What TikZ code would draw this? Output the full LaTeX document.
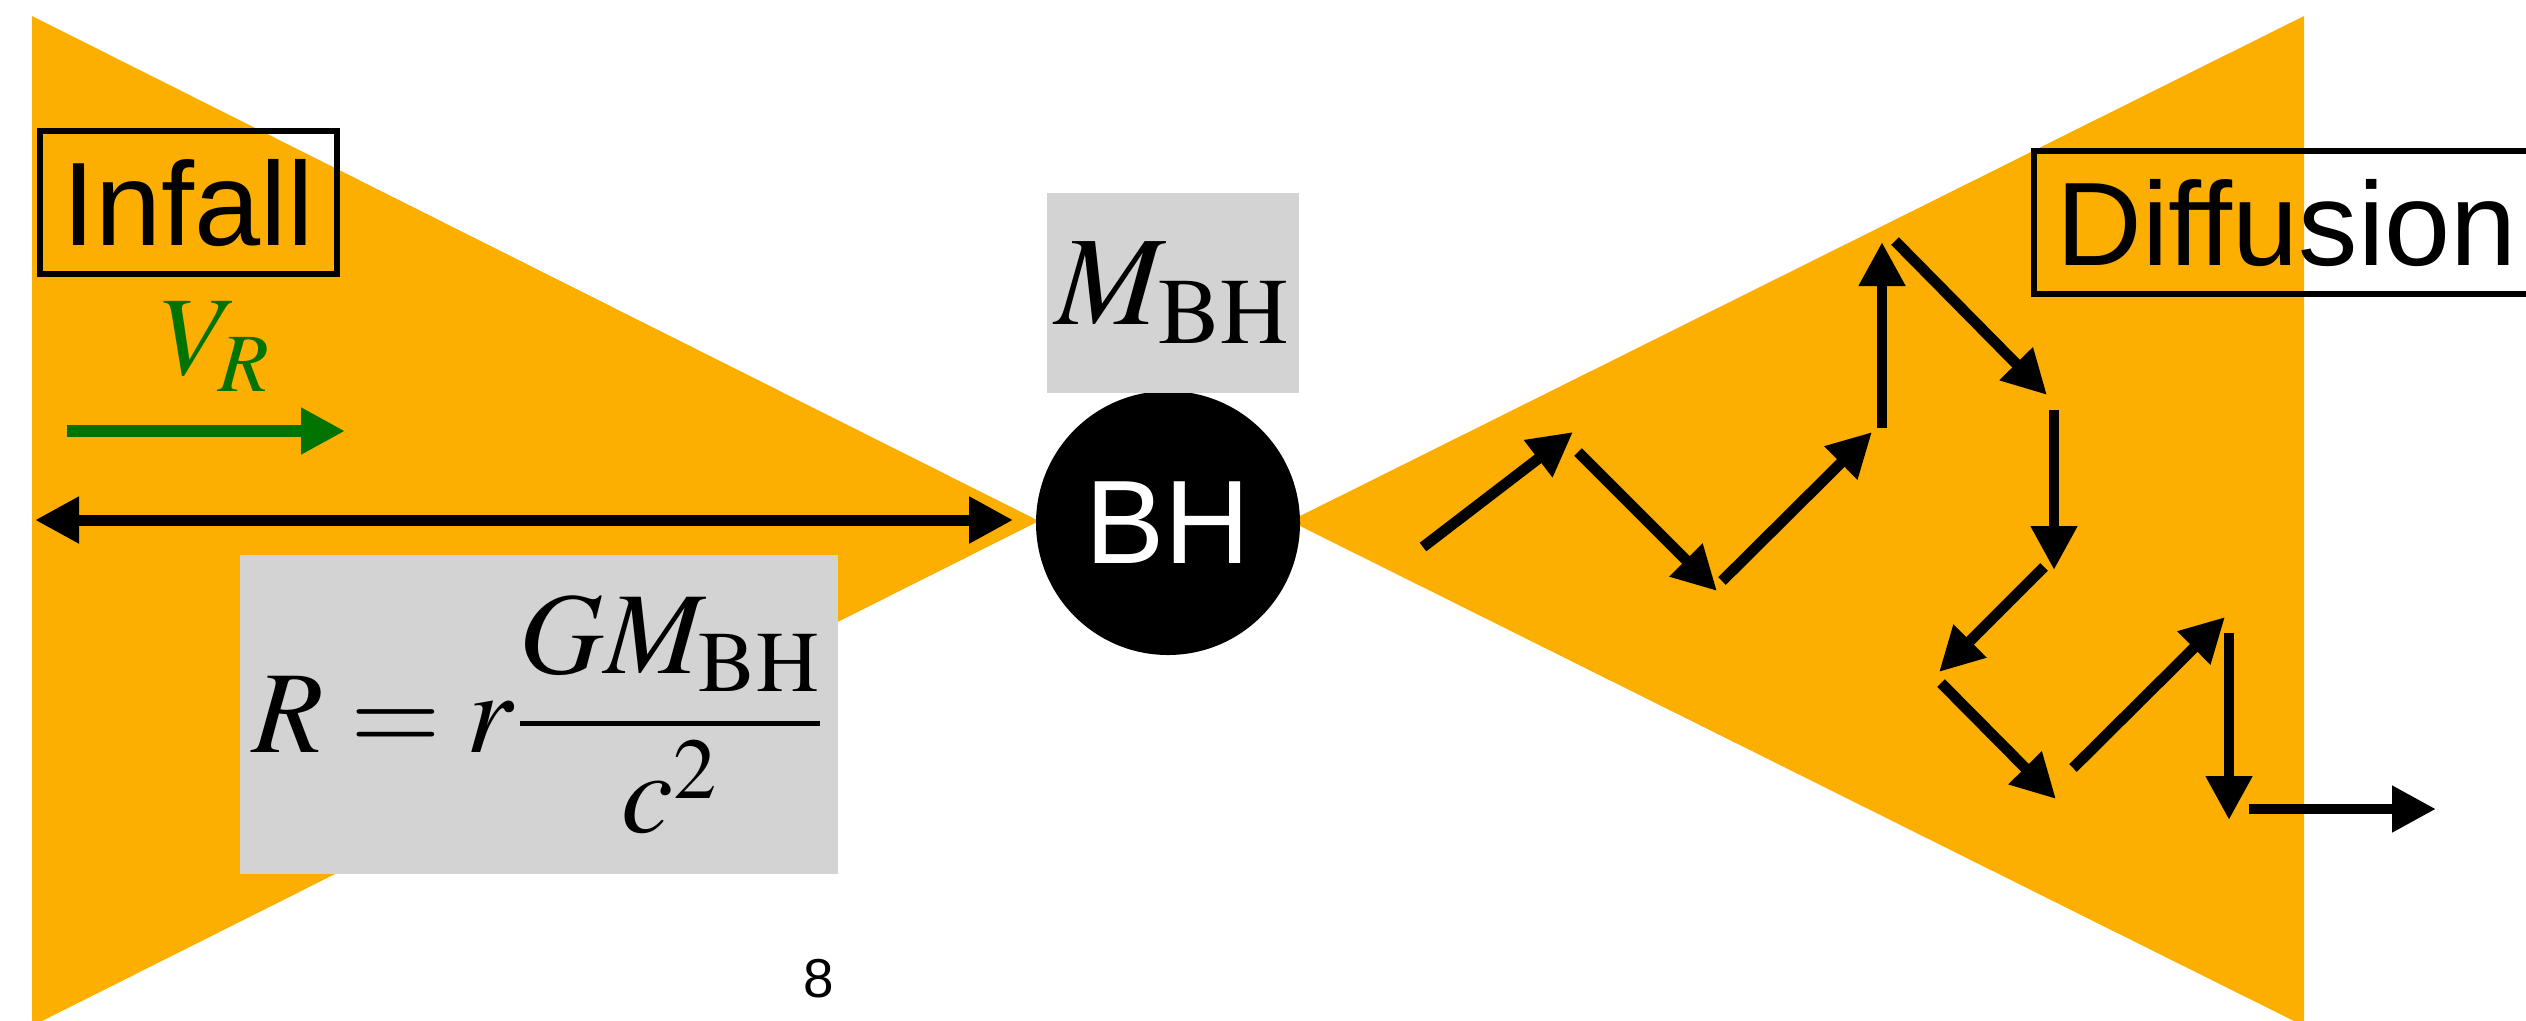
\documentclass[tikz,border=0pt]{standalone}
\usepackage{mathptmx}
\usepackage[no-math]{fontspec}
\setsansfont{Liberation Sans}
\usetikzlibrary{
  arrows.meta
}
\definecolor{flow}{RGB}{252,175,0}
\definecolor{panelgray}{RGB}{211,211,211}
\definecolor{velgreen}{RGB}{0,115,0}

\begin{document}
\begin{tikzpicture}[
    x=0.25pt, y=-0.25pt,>={Triangle[length=11pt,width=11pt]},font=\sffamily,
    tag/.style={
      draw=black,
      line width=1.4pt,
      anchor=west,
      text height=21.25pt, text depth=0pt,
      inner xsep=5.75pt, inner ysep=7.25pt,
      font=\sffamily\fontsize{29.7}{30}\selectfont
    },
    mathbox/.style={
      fill=panelgray,
      inner sep=0pt
    },
    walk/.style={
      ->,
      line width=2.7pt
    }
  ]

  \useasboundingbox (0,0) rectangle (2526,1020);
  \clip (0,0) rectangle (2526,1020);

  % Bow-tie flow
  \fill[flow] (32,16) -- (1039,521) -- (32,1026) -- cycle;
  \fill[flow] (2304,16) -- (1290,521) -- (2304,1026) -- cycle;

  % Centre
  \node[circle, fill=black, minimum size=66pt, inner sep=0pt, text=white,
    font=\sffamily\fontsize{29.7}{30}\selectfont] (bh) at (1168,523) {BH};
  \node[mathbox, minimum width=63pt, minimum height=50pt] (mass) at (1173,293)
    {\fontsize{31.75}{36}\selectfont$M_{\mathrm{BH}}$};

  % Left
  \node[tag] (infall) at (37,202.5) {Infall};
  \node[text=velgreen, font=\fontsize{28}{30}\selectfont] (vr) at (216,347) {$V_R$};
  \coordinate (vtail) at (67,431);
  \coordinate (vhead) at (345,431);
  \draw[->, velgreen, line width=3pt] (vtail) -- (vhead);
  \coordinate (rim) at (35,520);
  \draw[<->, line width=2.75pt] (rim) -- ([xshift=-5.5pt]rim -| bh.west);
  \node[mathbox, minimum width=149.5pt, minimum height=79.75pt] (radius) at (539,714.5)
    {\fontsize{29.2}{34}\selectfont$\displaystyle R = r\frac{GM_{\mathrm{BH}}}{c^2}$};

  % Right
  \node[tag] (diffusion) at (2031,222.5) {Diffusion};
  \foreach \i/\tx/\ty/\hx/\hy in {
      1/1423/547/1573/432, 2/1578/452/1717/591, 3/1722/581/1872/432,
      4/1882/428/1882/242, 5/1895/241/2047/395, 6/2054/410/2054/570,
      7/2044/567/1939/672, 8/1941/683/2056/799, 9/2073/768/2225/617,
      10/2229/633/2229/820, 11/2249/809/2436/809} {
    \coordinate (s\i) at (\tx,\ty);
    \coordinate (e\i) at (\hx,\hy);
    \draw[walk] (s\i) -- (e\i);
  }

  % Page number
  \node[font=\sffamily\fontsize{13.7}{14}\selectfont] (page) at (819,979) {8};

\end{tikzpicture}
\end{document}
